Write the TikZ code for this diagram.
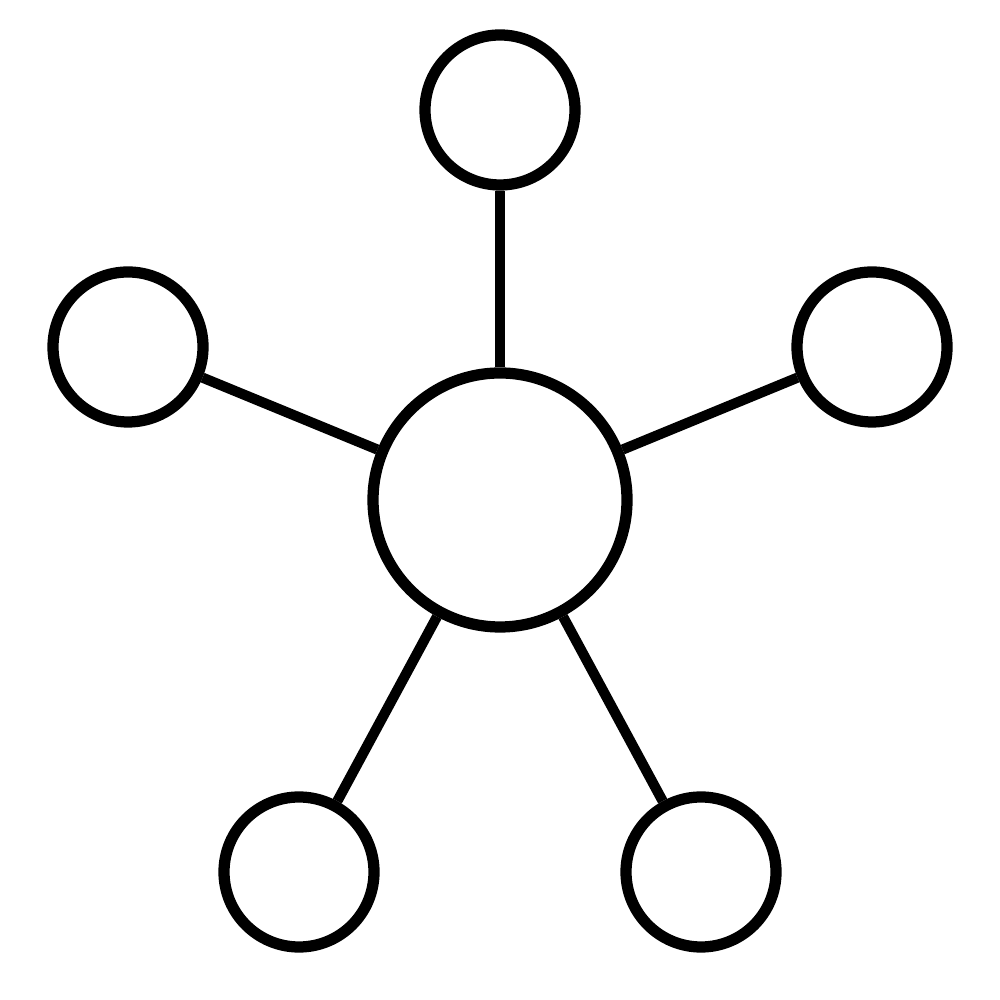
\documentclass[tikz,border=0pt]{standalone}
\usepackage{tikz}

\tikzset{
    hub/.style={draw, shape=circle, line width=3.2pt, minimum size=2.54cm, inner sep=0pt},
    leaf/.style={draw, shape=circle, line width=3.2pt, minimum size=1.5cm, inner sep=0pt},
    spoke/.style={line width=2.9pt}
}

\begin{document}
\begin{tikzpicture}
    \useasboundingbox (0,0) rectangle (10,10);

    \node[hub] (hub) at (5,5) {};
    \node[leaf] (top) at (5,8.9) {};
    \node[leaf] (left) at (1.28,6.53) {};
    \node[leaf] (right) at (8.72,6.53) {};
    \node[leaf] (botleft) at (2.99,1.28) {};
    \node[leaf] (botright) at (7.01,1.28) {};

    \draw[spoke] (hub) -- (top);
    \draw[spoke] (hub) -- (left);
    \draw[spoke] (hub) -- (right);
    \draw[spoke] (hub) -- (botleft);
    \draw[spoke] (hub) -- (botright);
\end{tikzpicture}
\end{document}
